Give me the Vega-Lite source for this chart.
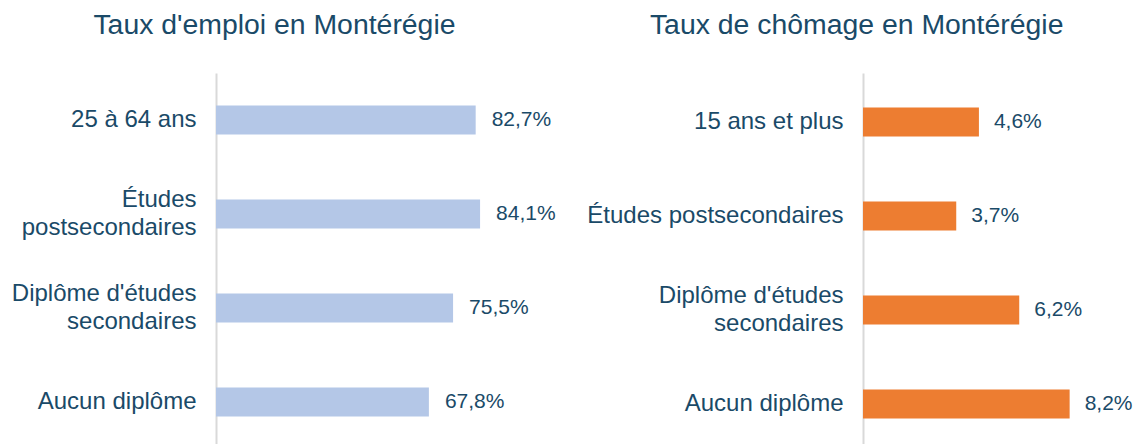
{
  "$schema": "https://vega.github.io/schema/vega-lite/v6.json",
  "padding": {"left": 11, "top": 10, "right": 2, "bottom": 0},
  "background": "white",
  "config": {"view": {"stroke": null}, "font": "Liberation Sans", "concat": {"spacing": 30}},
  "hconcat": [
    {
      "title": {"text": "Taux d'emploi en Montérégie", "fontSize": 28.4, "font": "Liberation Sans", "fontWeight": "normal", "color": "#1A4A68", "frame": "bounds", "anchor": "middle", "offset": 33, "dx": -9},
      "width": 314,
      "height": 371,
      "data": {"values": [
        {"categorie": "25 à 64 ans", "taux": 82.7},
        {"categorie": "Études|postsecondaires", "taux": 84.1},
        {"categorie": "Diplôme d'études|secondaires", "taux": 75.5},
        {"categorie": "Aucun diplôme", "taux": 67.8}
      ]},
      "transform": [{"calculate": "replace(format(datum.taux, '.1f'), '.', ',') + '%'", "as": "etiquette"}],
      "encoding": {
        "y": {"field": "categorie", "type": "nominal", "sort": null,
          "scale": {"paddingInner": 0.5, "paddingOuter": 0.2234, "align": 0.5595, "round": false},
          "axis": {"title": null, "domain": true, "domainColor": "#D9D9D9", "domainWidth": 2, "ticks": false, "labelPadding": 20, "labelFontSize": 24, "labelColor": "#1A4A68", "labelFont": "Liberation Sans", "labelExpr": "split(datum.label, '|')", "labelLineHeight": 28, "labelLimit": 400,
            "labelOffset": {"condition": {"test": "indexof(datum.value, '|') >= 0", "value": -14}, "value": 0}}},
        "x": {"field": "taux", "type": "quantitative", "scale": {"domain": [0, 100]}, "axis": null}
      },
      "layer": [
        {"mark": {"type": "bar", "height": 29, "color": "#B4C7E7"}},
        {"mark": {"type": "text", "align": "left", "baseline": "middle", "dx": 16, "fontSize": 21, "font": "Liberation Sans", "color": "#1A4A68"}, "encoding": {"text": {"field": "etiquette"}}}
      ]
    },
    {
      "title": {"text": "Taux de chômage en Montérégie", "fontSize": 28.4, "font": "Liberation Sans", "fontWeight": "normal", "color": "#1A4A68", "frame": "bounds", "anchor": "middle", "offset": 33, "dx": -3},
      "width": 252,
      "height": 371,
      "data": {"values": [
        {"categorie": "15 ans et plus", "taux": 4.6},
        {"categorie": "Études postsecondaires", "taux": 3.7},
        {"categorie": "Diplôme d'études|secondaires", "taux": 6.2},
        {"categorie": "Aucun diplôme", "taux": 8.2}
      ]},
      "transform": [{"calculate": "replace(format(datum.taux, '.1f'), '.', ',') + '%'", "as": "etiquette"}],
      "encoding": {
        "y": {"field": "categorie", "type": "nominal", "sort": null,
          "scale": {"paddingInner": 0.5, "paddingOuter": 0.2234, "align": 0.607, "round": false},
          "axis": {"title": null, "domain": true, "domainColor": "#D9D9D9", "domainWidth": 2, "ticks": false, "labelPadding": 20, "labelFontSize": 24, "labelColor": "#1A4A68", "labelFont": "Liberation Sans", "labelExpr": "split(datum.label, '|')", "labelLineHeight": 28, "labelLimit": 400,
            "labelOffset": {"condition": {"test": "indexof(datum.value, '|') >= 0", "value": -14}, "value": 0}}},
        "x": {"field": "taux", "type": "quantitative", "scale": {"domain": [0, 10]}, "axis": null}
      },
      "layer": [
        {"mark": {"type": "bar", "height": 29, "color": "#ED7D31"}},
        {"mark": {"type": "text", "align": "left", "baseline": "middle", "dx": 15, "fontSize": 21, "font": "Liberation Sans", "color": "#1A4A68"}, "encoding": {"text": {"field": "etiquette"}}}
      ]
    }
  ]
}
